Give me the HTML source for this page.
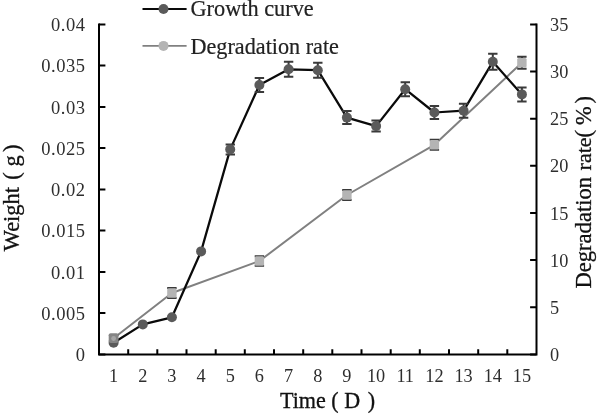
<!DOCTYPE html>
<html><head><meta charset="utf-8"><title>Growth curve</title>
<style>html,body{margin:0;padding:0;background:#fff}body{width:597px;height:414px;overflow:hidden}</style></head>
<body>
<svg width="597" height="414" viewBox="0 0 597 414" style="display:block;font-family:'Liberation Serif',serif">
<rect width="597" height="414" fill="#fff"/>
<path d="M99.0,23.4 V354.4 H536.5 V23.4" fill="none" stroke="#000" stroke-width="2"/>
<path d="M99.0,354.4 h6.4 M99.0,313.1 h6.4 M99.0,271.9 h6.4 M99.0,230.6 h6.4 M99.0,189.4 h6.4 M99.0,148.1 h6.4 M99.0,106.9 h6.4 M99.0,65.6 h6.4 M99.0,24.4 h6.4 M536.5,354.4 h-6.4 M536.5,307.3 h-6.4 M536.5,260.1 h-6.4 M536.5,213.0 h-6.4 M536.5,165.8 h-6.4 M536.5,118.7 h-6.4 M536.5,71.5 h-6.4 M536.5,24.4 h-6.4 M128.2,354.4 v-5.2 M157.3,354.4 v-5.2 M186.5,354.4 v-5.2 M215.7,354.4 v-5.2 M244.8,354.4 v-5.2 M274.0,354.4 v-5.2 M303.2,354.4 v-5.2 M332.3,354.4 v-5.2 M361.5,354.4 v-5.2 M390.7,354.4 v-5.2 M419.8,354.4 v-5.2 M449.0,354.4 v-5.2 M478.2,354.4 v-5.2 M507.3,354.4 v-5.2" fill="none" stroke="#000" stroke-width="2"/>
<g font-size="18.5" fill="#2e2e2e" text-anchor="end" letter-spacing="0.5">
<text x="85.4" y="361.0">0</text>
<text x="85.4" y="319.8">0.005</text>
<text x="85.4" y="278.5">0.01</text>
<text x="85.4" y="237.2">0.015</text>
<text x="85.4" y="196.0">0.02</text>
<text x="85.4" y="154.7">0.025</text>
<text x="85.4" y="113.5">0.03</text>
<text x="85.4" y="72.2">0.035</text>
<text x="85.4" y="31.0">0.04</text>
</g>
<g font-size="18.3" fill="#2e2e2e" text-anchor="start">
<text x="550" y="360.9">0</text>
<text x="550" y="313.8">5</text>
<text x="550" y="266.6">10</text>
<text x="550" y="219.5">15</text>
<text x="550" y="172.3">20</text>
<text x="550" y="125.2">25</text>
<text x="550" y="78.0">30</text>
<text x="550" y="30.9">35</text>
</g>
<g font-size="18.3" fill="#2e2e2e" text-anchor="middle">
<text x="113.6" y="382.3">1</text>
<text x="142.8" y="382.3">2</text>
<text x="171.9" y="382.3">3</text>
<text x="201.1" y="382.3">4</text>
<text x="230.2" y="382.3">5</text>
<text x="259.4" y="382.3">6</text>
<text x="288.6" y="382.3">7</text>
<text x="317.8" y="382.3">8</text>
<text x="346.9" y="382.3">9</text>
<text x="376.1" y="382.3">10</text>
<text x="405.2" y="382.3">11</text>
<text x="434.4" y="382.3">12</text>
<text x="463.6" y="382.3">13</text>
<text x="492.8" y="382.3">14</text>
<text x="521.9" y="382.3">15</text>
</g>
<polyline points="113.6,338.2 171.9,293 259.4,261 346.9,195 434.4,144.8 521.9,62.7" fill="none" stroke="#808080" stroke-width="2" stroke-linejoin="round"/>
<polyline points="113.6,342.8 142.8,324.4 171.9,317.3 201.1,251.4 230.2,149.4 259.4,85 288.6,69.3 317.8,70.2 346.9,117.6 376.1,126.1 405.2,89.2 434.4,112.5 463.6,110.7 492.8,61.8 521.9,94.4" fill="none" stroke="#0a0a0a" stroke-width="2.25" stroke-linejoin="round"/>
<path d="M230.2,144.4 V154.4 M225.6,144.4 h9.4 M225.6,154.4 h9.4 M259.4,78.0 V92.0 M254.7,78.0 h9.4 M254.7,92.0 h9.4 M288.6,61.8 V76.8 M283.9,61.8 h9.4 M283.9,76.8 h9.4 M317.8,62.7 V77.7 M313.1,62.7 h9.4 M313.1,77.7 h9.4 M346.9,111.1 V124.1 M342.2,111.1 h9.4 M342.2,124.1 h9.4 M376.1,120.6 V131.6 M371.4,120.6 h9.4 M371.4,131.6 h9.4 M405.2,82.2 V96.2 M400.6,82.2 h9.4 M400.6,96.2 h9.4 M434.4,106.0 V119.0 M429.7,106.0 h9.4 M429.7,119.0 h9.4 M463.6,103.7 V117.7 M458.9,103.7 h9.4 M458.9,117.7 h9.4 M492.8,53.8 V69.8 M488.1,53.8 h9.4 M488.1,69.8 h9.4 M521.9,87.4 V101.4 M517.2,87.4 h9.4 M517.2,101.4 h9.4" fill="none" stroke="#3a3a3a" stroke-width="2"/>
<circle cx="113.6" cy="342.8" r="5" fill="#5a5a5a"/>
<circle cx="142.8" cy="324.4" r="5" fill="#5a5a5a"/>
<circle cx="171.9" cy="317.3" r="5" fill="#5a5a5a"/>
<circle cx="201.1" cy="251.4" r="5" fill="#5a5a5a"/>
<circle cx="230.2" cy="149.4" r="5" fill="#5a5a5a"/>
<circle cx="259.4" cy="85" r="5" fill="#5a5a5a"/>
<circle cx="288.6" cy="69.3" r="5" fill="#5a5a5a"/>
<circle cx="317.8" cy="70.2" r="5" fill="#5a5a5a"/>
<circle cx="346.9" cy="117.6" r="5" fill="#5a5a5a"/>
<circle cx="376.1" cy="126.1" r="5" fill="#5a5a5a"/>
<circle cx="405.2" cy="89.2" r="5" fill="#5a5a5a"/>
<circle cx="434.4" cy="112.5" r="5" fill="#5a5a5a"/>
<circle cx="463.6" cy="110.7" r="5" fill="#5a5a5a"/>
<circle cx="492.8" cy="61.8" r="5" fill="#5a5a5a"/>
<circle cx="521.9" cy="94.4" r="5" fill="#5a5a5a"/>
<path d="M113.6,335.2 V341.2 M108.9,335.2 h9.4 M108.9,341.2 h9.4 M171.9,288.0 V298.0 M167.2,288.0 h9.4 M167.2,298.0 h9.4 M259.4,256.3 V265.7 M254.7,256.3 h9.4 M254.7,265.7 h9.4 M346.9,190.0 V200.0 M342.2,190.0 h9.4 M342.2,200.0 h9.4 M434.4,139.8 V149.8 M429.7,139.8 h9.4 M429.7,149.8 h9.4 M521.9,56.7 V68.7 M517.2,56.7 h9.4 M517.2,68.7 h9.4" fill="none" stroke="#3a3a3a" stroke-width="2"/>
<rect x="108.7" y="333.3" width="9.8" height="9.8" rx="2" fill="#858585"/><circle cx="113.6" cy="338.5" r="2.4" fill="#a6a6a6"/>
<rect x="167.2" y="288.3" width="9.4" height="9.4" rx="1.5" fill="#b4b4b4"/>
<rect x="254.7" y="256.3" width="9.4" height="9.4" rx="1.5" fill="#b4b4b4"/>
<rect x="342.2" y="190.3" width="9.4" height="9.4" rx="1.5" fill="#b4b4b4"/>
<rect x="429.7" y="140.1" width="9.4" height="9.4" rx="1.5" fill="#b4b4b4"/>
<rect x="517.2" y="58.0" width="9.4" height="9.4" rx="1.5" fill="#b4b4b4"/>
<path d="M142.5,9 H186.6" stroke="#0a0a0a" stroke-width="1.9"/><circle cx="163.5" cy="9" r="5" fill="#5a5a5a"/>
<path d="M142.5,45.9 H186.6" stroke="#808080" stroke-width="1.9"/><circle cx="163.5" cy="45.9" r="5" fill="#b4b4b4"/>
<g font-size="22.6" fill="#222" stroke="#222" stroke-width="0.2">
<text x="190.5" y="16.2" font-size="22.3">Growth curve</text>
<text x="190.5" y="53.5" font-size="22.2">Degradation rate</text>
</g>
<g font-size="22.8" fill="#111" stroke="#111" stroke-width="0.3">
<text x="280" y="408.1" font-size="22.1">Time ( D <tspan dx="2">)</tspan></text>
<g transform="translate(18.7,251.3) rotate(-90)" font-size="22.5"><text x="0" y="0">Weight</text><text x="71.6" y="0">(</text><text x="84.8" y="0">g</text><text x="99.2" y="0">)</text></g>
<g transform="translate(590.8,288.6) rotate(-90)" font-size="22.4"><text x="0" y="0" font-size="22.6">Degradation</text><text x="118.2" y="0" font-size="22">rate</text><text x="151" y="0">(</text><text x="163.6" y="0">%</text><text x="185.2" y="0">)</text></g>
</g>
</svg>
</body></html>
